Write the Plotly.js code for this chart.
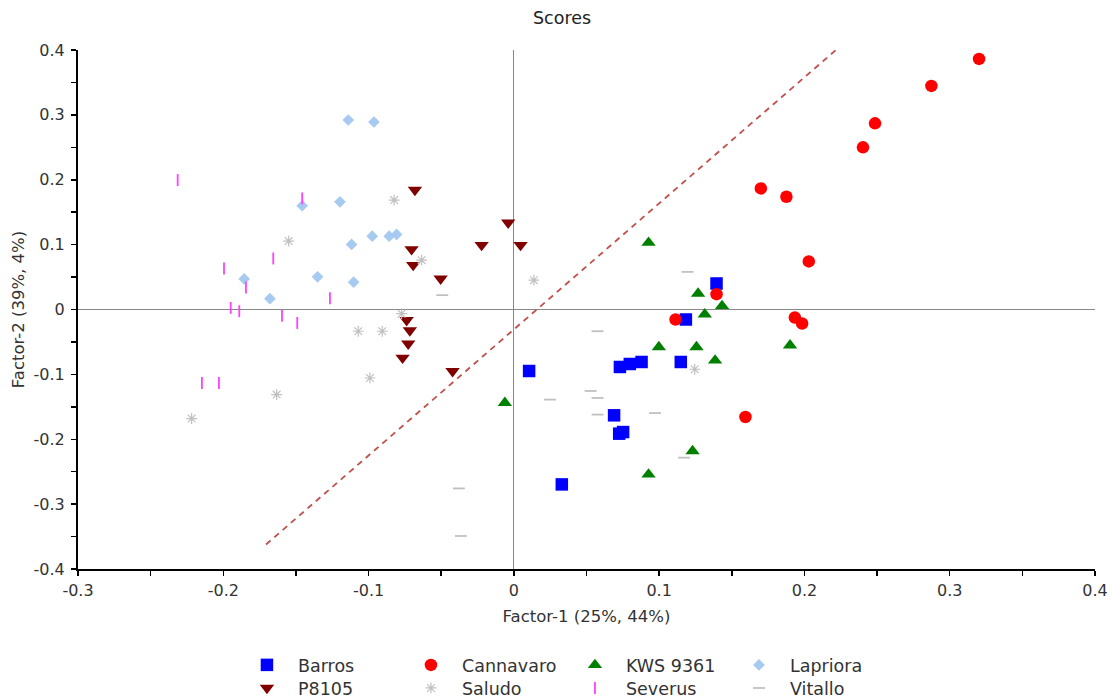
<!DOCTYPE html>
<html>
<head>
<meta charset="utf-8">
<script src="https://cdn.plot.ly/plotly-3.0.1.min.js"></script>
<style>html,body{margin:0;padding:0;background:#fff;}#chart{width:1113px;height:700px;}</style>
</head>
<body>
<div id="chart"></div>
<script>
// ---- data ----
const barrosX = [0.1395, 0.1184, 0.1149, 0.0879, 0.0798, 0.0730, 0.0105, 0.0690, 0.0725, 0.0752, 0.0330];
const barrosY = [0.0401, -0.0154, -0.0809, -0.0809, -0.0840, -0.0886, -0.0948, -0.1631, -0.1914, -0.1889, -0.2696];

const cannavaroX = [0.3202, 0.2874, 0.2486, 0.2403, 0.1700, 0.1876, 0.2030, 0.1395, 0.1934, 0.1984, 0.1113, 0.1594];
const cannavaroY = [0.3863, 0.3446, 0.2870, 0.2500, 0.1867, 0.1738, 0.0741, 0.0236, -0.0123, -0.0216, -0.0154, -0.1657];

const kwsX = [0.0927, 0.1268, 0.1433, 0.1314, 0.0998, 0.1257, 0.1385, 0.1901, -0.0062, 0.1230, 0.0927];
const kwsY = [0.1030, 0.0245, 0.0055, -0.0075, -0.0578, -0.0578, -0.0785, -0.0552, -0.1438, -0.2183, -0.2543];

const lapX = [-0.1140, -0.0963, -0.1457, -0.1197, -0.0975, -0.0858, -0.0807, -0.1117, -0.1856, -0.1351, -0.1103, -0.1679];
const lapY = [0.2921, 0.2890, 0.1599, 0.1660, 0.1131, 0.1131, 0.1157, 0.1003, 0.0472, 0.0503, 0.0421, 0.0167];

const p8105X = [-0.0681, -0.0039, -0.0222, 0.0046, -0.0704, -0.0693, -0.0504, -0.0738, -0.0716, -0.0727, -0.0766, -0.0422];
const p8105Y = [0.1842, 0.1339, 0.0993, 0.0993, 0.0927, 0.0685, 0.0475, -0.0164, -0.0323, -0.0528, -0.0744, -0.0951];

const saludoX = [-0.0824, -0.1550, -0.0635, 0.0138, -0.0773, -0.1071, -0.0906, -0.0991, -0.1633, -0.2218, 0.1245];
const saludoY = [0.1687, 0.1054, 0.0761, 0.0452, -0.0065, -0.0335, -0.0335, -0.1056, -0.1312, -0.1682, -0.0921];

const severusX = [-0.2314, -0.1457, -0.1656, -0.1995, -0.1844, -0.1266, -0.1949, -0.1890, -0.1596, -0.1491, -0.2147, -0.2030];
const severusY = [0.1995, 0.1713, 0.0787, 0.0633, 0.0340, 0.0174, 0.0025, -0.0026, -0.0099, -0.0207, -0.1133, -0.1133];

const vitalloX = [-0.0493, 0.1195, 0.0576, 0.0528, 0.0576, 0.0248, 0.0576, 0.0972, 0.1172, -0.0378, -0.0365];
const vitalloY = [0.0221, 0.0580, -0.0335, -0.1256, -0.1364, -0.1389, -0.1620, -0.1596, -0.2284, -0.2758, -0.3491];

// dashed reference line endpoints
const refLineX = [-0.1706, 0.2239];
const refLineY = [-0.3622, 0.4043];

const xTicks = [-0.3, -0.2, -0.1, 0, 0.1, 0.2, 0.3, 0.4];
const xTickText = ['-0.3', '-0.2', '-0.1', '0', '0.1', '0.2', '0.3', '0.4'];
const yTicks = [-0.4, -0.3, -0.2, -0.1, 0, 0.1, 0.2, 0.3, 0.4];
const yTickText = ['-0.4', '-0.3', '-0.2', '-0.1', '0', '0.1', '0.2', '0.3', '0.4'];

// ---- traces ----
function pts(name, x, y, marker, legend) {
  return {type: 'scatter', mode: 'markers', name: name, x: x, y: y, marker: marker,
          legend: legend, hoverinfo: 'name+x+y'};
}

const traces = [
  {type: 'scatter', mode: 'lines', x: refLineX, y: refLineY, showlegend: false,
   line: {color: '#c0504d', width: 1.8, dash: '6px,5px'}, hoverinfo: 'skip'},
  pts('Barros', barrosX, barrosY, {symbol: 'square', size: 12.5, color: '#0000ff'}, 'legend'),
  pts('Cannavaro', cannavaroX, cannavaroY, {symbol: 'circle', size: 12.5, color: '#ff0000'}, 'legend'),
  pts('KWS 9361', kwsX, kwsY, {symbol: 'triangle-up', size: 12.5, color: '#008000'}, 'legend'),
  pts('Lapriora', lapX, lapY, {symbol: 'diamond', size: 9, color: '#a6caf0'}, 'legend'),
  pts('P8105', p8105X, p8105Y, {symbol: 'triangle-down', size: 12.5, color: '#800000'}, 'legend2'),
  pts('Saludo', saludoX, saludoY, {symbol: 'asterisk-open', size: 9, color: '#c0c0c0', line: {color: '#c0c0c0', width: 1.2}}, 'legend2'),
  pts('Severus', severusX, severusY, {symbol: 'line-ns-open', size: 8.5, color: '#ff40ff', line: {color: '#ff40ff', width: 1.8}}, 'legend2'),
  pts('Vitallo', vitalloX, vitalloY, {symbol: 'line-ew-open', size: 8.5, color: '#c0c0c0', line: {color: '#c0c0c0', width: 1.8}}, 'legend2')
];

const fontFam = '"DejaVu Sans", Arial, sans-serif';
const legendCommon = {
  orientation: 'h', xref: 'container', yref: 'container', xanchor: 'left', yanchor: 'middle',
  entrywidth: 97, entrywidthmode: 'pixels', itemwidth: 52,
  font: {family: fontFam, size: 17.5, color: '#333333'}, bgcolor: 'rgba(0,0,0,0)', borderwidth: 0,
  tracegroupgap: 0
};

const layout = {
  width: 1113, height: 700,
  margin: {l: 78, r: 18, t: 50, b: 131, pad: 0},
  paper_bgcolor: '#ffffff', plot_bgcolor: '#ffffff',
  font: {family: fontFam, size: 16, color: '#333333'},
  title: {text: 'Scores', x: 0.505, xref: 'container', xanchor: 'center', y: 0.974, yref: 'container', yanchor: 'middle',
          font: {family: fontFam, size: 17.5, color: '#222222'}},
  xaxis: {
    range: [-0.3, 0.4], tickvals: xTicks, ticktext: xTickText,
    showgrid: false, zeroline: true, zerolinecolor: '#888888', zerolinewidth: 1.2,
    showline: true, linecolor: '#000000', linewidth: 2,
    ticks: 'outside', ticklen: 5, tickwidth: 1.5, tickcolor: '#000000',
    minor: {dtick: 0.05, ticks: 'outside', ticklen: 5, tickwidth: 1.5, tickcolor: '#000000', showgrid: false},
    tickfont: {family: fontFam, size: 16, color: '#333333'}, ticklabelstandoff: 1,
    title: {text: 'Factor-1 (25%, 44%)', font: {family: fontFam, size: 16.5, color: '#333333'}, standoff: 11},
    automargin: false, fixedrange: true
  },
  yaxis: {
    range: [-0.4, 0.4], tickvals: yTicks, ticktext: yTickText,
    showgrid: false, zeroline: true, zerolinecolor: '#888888', zerolinewidth: 1.2,
    showline: true, linecolor: '#000000', linewidth: 2,
    ticks: 'outside', ticklen: 5, tickwidth: 1.5, tickcolor: '#000000',
    minor: {dtick: 0.05, ticks: 'outside', ticklen: 5, tickwidth: 1.5, tickcolor: '#000000', showgrid: false},
    tickfont: {family: fontFam, size: 16, color: '#333333'}, ticklabelstandoff: 3,
    title: {text: 'Factor-2 (39%, 4%)', font: {family: fontFam, size: 16.5, color: '#333333'}, standoff: 5},
    automargin: false, fixedrange: true
  },
  showlegend: true,
  legend: Object.assign({}, legendCommon, {x: 0.212, y: 0.05}),
  legend2: Object.assign({}, legendCommon, {x: 0.212, y: 0.017})
};

Plotly.newPlot('chart', traces, layout, {displayModeBar: false, staticPlot: true});
</script>
</body>
</html>
